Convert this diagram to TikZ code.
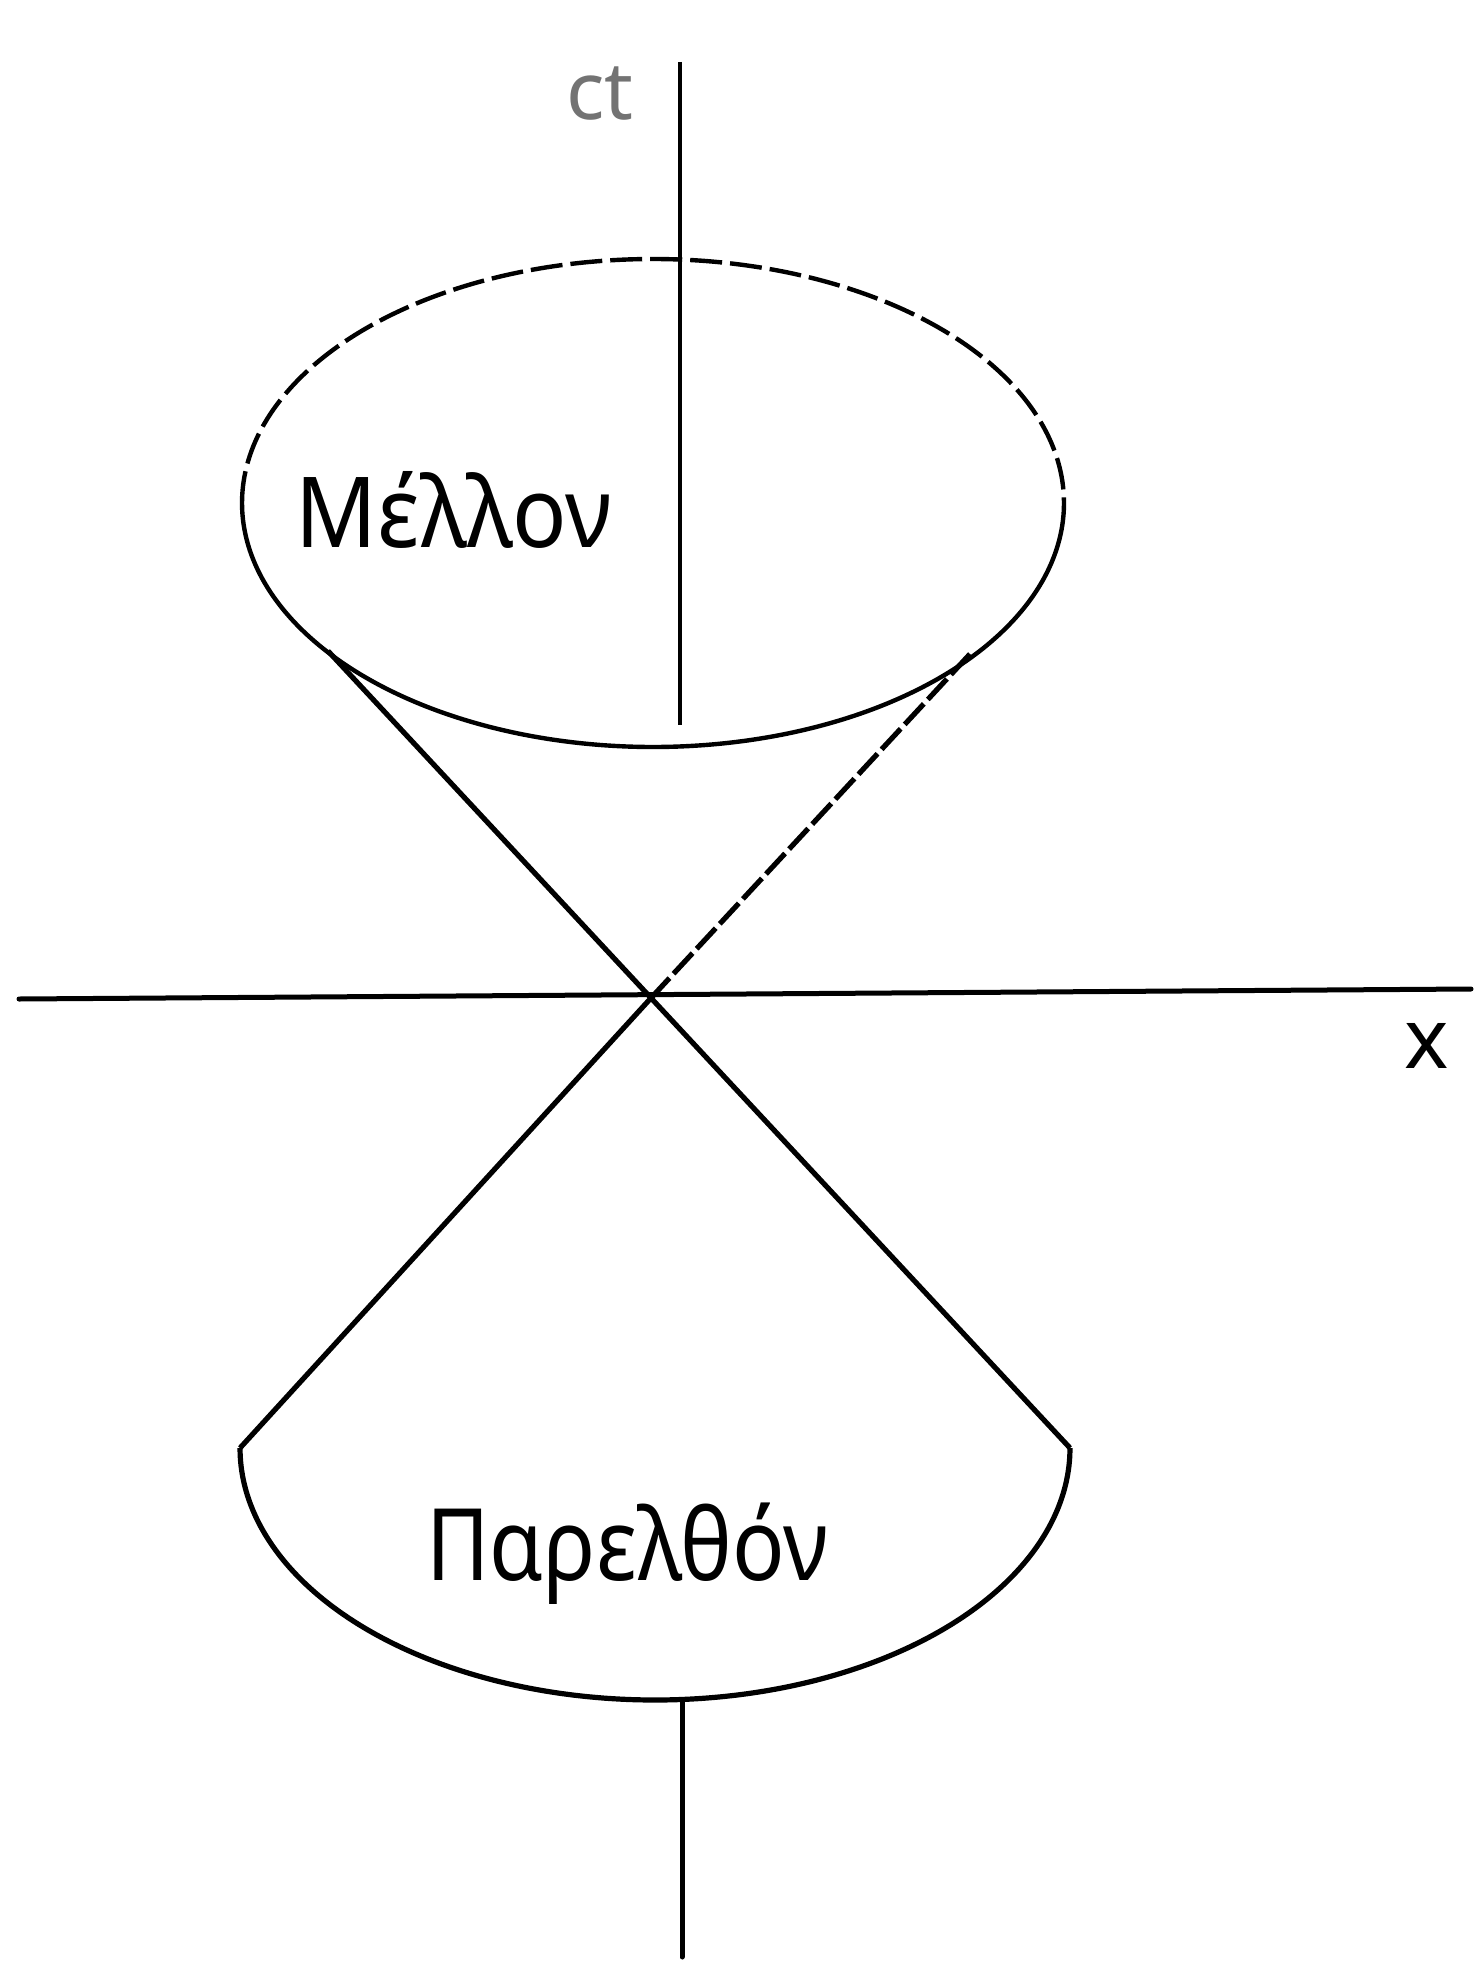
\documentclass[tikz,border=0pt]{standalone}
\usepackage{fontspec}
\setmainfont{Noto Sans}
\begin{document}
\begin{tikzpicture}[x=0.5pt,y=-0.5pt,
  axis/.style={line width=2.5pt,line cap=round},
  thinaxis/.style={line width=1.6pt},
  cone/.style={line width=2.6pt},
  rim/.style={line width=2.2pt},
  dashrim/.style={line width=2.2pt,dash pattern=on 16pt off 4pt},
  dashcone/.style={line width=2.6pt,dash pattern=on 14pt off 3pt},
  lbl/.style={inner sep=0pt,anchor=base}]
\useasboundingbox (0,0) rectangle (1476,1963);
\fill[white] (0,0) rectangle (1476,1963);
% coordinates
\coordinate (O) at (651,998);
\coordinate (L1) at (328,651);
\coordinate (R1) at (970,654);
\coordinate (L2) at (240,1448);
\coordinate (R2) at (1070,1448);
\coordinate (AxL) at (19,999);
\coordinate (AxR) at (1471,989);
\coordinate (VT) at (680,62);
\coordinate (VB) at (680,725);
\coordinate (WT) at (682,1700);
\coordinate (WB) at (682,1957);
% axes
\draw[axis] (AxL) -- (AxR);
\draw[thinaxis] (VT) -- (VB);
\draw[axis] (WT) -- (WB);
% future cone ellipse
\draw[dashrim] plot[domain=180:360,samples=90,smooth] ({653+411*cos(\x)},{503+244*sin(\x)});
\draw[rim] plot[domain=0:180,samples=90,smooth] ({653+411*cos(\x)},{503+244*sin(\x)});
% cone lines
\draw[cone] (L1) -- (O) -- (R2);
\draw[dashcone] (R1) -- (O);
\draw[cone] (O) -- (L2);
% past cup
\draw[rim,line width=2.6pt] plot[domain=0:180,samples=90,smooth] ({655+415*cos(\x)},{1448+252*sin(\x)});
% labels
\node[lbl,xscale=0.92] (fut) at (454,547) {\fontsize{49}{58}\selectfont Μέλλον};
\node[lbl,xscale=0.87] (past) at (627,1580) {\fontsize{50}{60}\selectfont Παρελθόν};
\node[lbl,text=black!55] (ct) at (600,120) {\fontsize{40}{48}\selectfont ct};
\node[lbl] (xl) at (1427,1068) {\fontsize{42}{50}\selectfont x};
\end{tikzpicture}
\end{document}
